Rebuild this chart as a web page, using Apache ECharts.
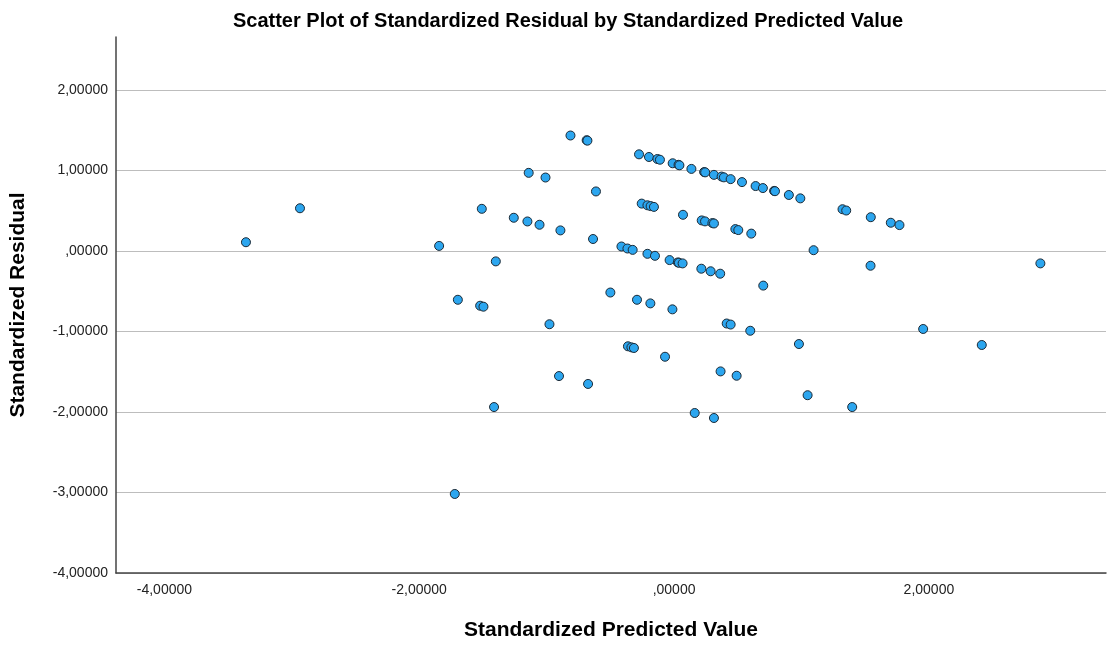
<!DOCTYPE html>
<html>
<head>
<meta charset="utf-8">
<script src="https://cdn.jsdelivr.net/npm/echarts@6/dist/echarts.min.js"></script>
<style>
html,body{margin:0;padding:0;background:#fff;overflow:hidden;}
#chart{width:1109px;height:646px;}
</style>
</head>
<body>
<div id="chart"></div>
<script>
// Standardized predicted values (x) and standardized residuals (y)
const predicted = [
  -0.813,-0.686,-0.680,-0.275,-0.197,-0.131,-0.111,-0.011,0.035,0.042,0.136,0.236,0.244,0.313,0.373,0.391,0.444,0.533,0.640,0.697,0.785,0.792,0.901,0.991,1.322,1.351,1.544,1.701,1.769,
  -1.141,-1.009,-0.613,-1.509,-2.936,-1.258,-1.151,-1.056,-0.892,-0.254,-0.209,-0.184,-0.158,0.070,0.217,0.243,0.301,0.313,0.481,0.504,0.606,-0.636,-3.360,-1.844,
  -0.413,-0.366,-0.325,-0.209,-0.150,-0.035,0.030,0.038,0.067,0.214,0.287,0.362,-1.399,1.095,1.542,2.875,
  -0.500,-0.291,-0.186,-0.013,-1.697,-1.522,-1.496,-0.978,0.700,0.413,0.444,0.598,1.955,-0.362,-0.335,-0.315,-0.071,0.365,-0.903,-0.675,0.980,2.415,0.491,1.048,1.398,-1.413,0.162,0.313,-1.721
];
const residual = [
  1.436,1.378,1.372,1.202,1.169,1.144,1.135,1.091,1.072,1.066,1.021,0.982,0.978,0.947,0.926,0.916,0.894,0.857,0.808,0.783,0.748,0.744,0.697,0.655,0.520,0.504,0.421,0.352,0.323,
  0.972,0.914,0.741,0.525,0.532,0.414,0.368,0.327,0.257,0.590,0.569,0.559,0.549,0.451,0.381,0.369,0.348,0.343,0.273,0.261,0.217,0.150,0.110,0.064,
  0.057,0.032,0.015,-0.034,-0.059,-0.112,-0.141,-0.145,-0.153,-0.219,-0.251,-0.281,-0.128,0.011,-0.182,-0.153,
  -0.515,-0.605,-0.650,-0.724,-0.605,-0.679,-0.691,-0.909,-0.429,-0.900,-0.913,-0.990,-0.968,-1.183,-1.196,-1.204,-1.313,-1.495,-1.553,-1.651,-1.155,-1.167,-1.549,-1.791,-1.938,-1.938,-2.012,-2.074,-3.018
];
const xTickValues = [-4, -2, 0, 2];
const xTickLabels = ['-4,00000', '-2,00000', ',00000', '2,00000'];
const yTickValues = [-4, -3, -2, -1, 0, 1, 2];
const yTickLabels = ['-4,00000', '-3,00000', '-2,00000', '-1,00000', ',00000', '1,00000', '2,00000'];

const points = predicted.map((x, i) => [x, residual[i]]);
function labelFor(values, labels) {
  return function (v) {
    for (let i = 0; i < values.length; i++) {
      if (Math.abs(values[i] - v) < 1e-6) return labels[i];
    }
    return '';
  };
}

const FONT = 'Liberation Sans, Arial, sans-serif';
const chart = echarts.init(document.getElementById('chart'), null, { renderer: 'canvas', width: 1109, height: 646 });
chart.setOption({
  animation: false,
  backgroundColor: '#ffffff',
  textStyle: { fontFamily: FONT },
  title: {
    text: 'Scatter Plot of Standardized Residual by Standardized Predicted Value',
    left: 563, top: 6, textAlign: 'center',
    textStyle: { fontFamily: FONT, fontSize: 20, fontWeight: 'bold', color: '#000' }
  },
  grid: { left: 115, right: 3, top: 37, bottom: 69, containLabel: false },
  xAxis: {
    type: 'value', min: -4.38, max: 3.39,
    name: 'Standardized Predicted Value', nameLocation: 'middle', nameGap: 47,
    nameTextStyle: { fontFamily: FONT, fontSize: 21, fontWeight: 'bold', color: '#000' },
    axisLine: { show: true, onZero: false, lineStyle: { color: '#444', width: 1.5 } },
    axisTick: { show: false, customValues: xTickValues },
    axisLabel: { customValues: xTickValues, formatter: labelFor(xTickValues, xTickLabels), fontSize: 14, color: '#222', margin: 10 },
    splitLine: { show: false }
  },
  yAxis: {
    type: 'value', min: -4, max: 2.66,
    name: 'Standardized Residual', nameLocation: 'middle', nameGap: 87, nameRotate: 90,
    nameTextStyle: { fontFamily: FONT, fontSize: 21, fontWeight: 'bold', color: '#000' },
    axisLine: { show: true, onZero: false, lineStyle: { color: '#444', width: 1.5 } },
    axisTick: { show: false, customValues: yTickValues },
    axisLabel: { customValues: yTickValues, formatter: labelFor(yTickValues, yTickLabels), fontSize: 14, color: '#222', margin: 8 },
    splitLine: { show: true, lineStyle: { color: '#bdbdbd', width: 1 } }
  },
  series: [{
    type: 'scatter',
    data: points,
    symbol: 'circle',
    symbolSize: 9,
    itemStyle: { color: '#2ca6ef', borderColor: '#1c2a36', borderWidth: 1, opacity: 1 }
  }]
});
</script>
</body>
</html>
